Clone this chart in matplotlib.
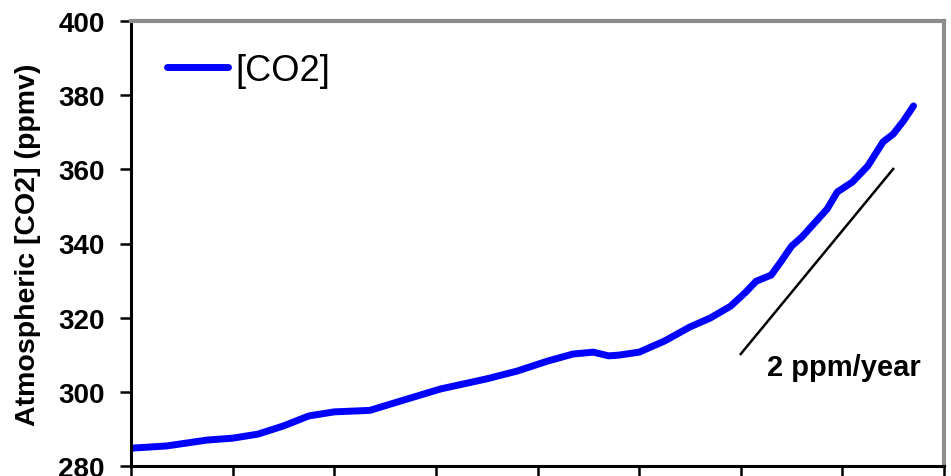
import numpy as np
import matplotlib
matplotlib.use("Agg")
import matplotlib.pyplot as plt

plt.rcParams['font.family'] = ['Liberation Sans', 'DejaVu Sans']

# approximate annual mean CO2
years = [1850, 1857, 1865, 1870, 1875, 1880, 1885, 1890, 1897, 1903, 1911,
         1920, 1926, 1932, 1937, 1941, 1944, 1946, 1950, 1955, 1960, 1964,
         1968, 1971, 1973, 1976, 1978, 1980, 1982, 1987, 1989, 1992, 1995,
         1998, 2000, 2002, 2004]
co2 = [284.8, 285.4, 287.0, 287.5, 288.6, 290.8, 293.5, 294.6, 295.0, 297.5,
       300.8, 303.5, 305.6, 308.3, 310.2, 310.7, 309.7, 309.9, 310.7, 313.7,
       317.5, 319.9, 323.1, 326.9, 329.8, 331.5, 335.3, 339.3, 341.7, 349.3,
       353.9, 356.6, 360.9, 367.4, 369.5, 373.0, 377.1]

# reference slope line
slope_x = [1970, 2000]
slope_y = [310.2, 360.1]
slope_label = "2 ppm/year"

fig = plt.figure(figsize=(9.51, 4.77), dpi=100)
ax = fig.add_axes([131 / 951, 1 - 467 / 477, 813 / 951, 445 / 477])

ax.plot(years, co2, color="#0000FF", lw=5, solid_capstyle="round", label="[CO2]")
ax.plot(slope_x, slope_y, color="black", lw=1.8)
ax.text(1975.2, 304.5, slope_label, fontsize=21, fontweight="bold",
        ha="left", va="baseline")

ax.set_xlim(1850, 2010)
ax.set_ylim(280, 400)
ax.set_xticks(np.arange(1850, 2011, 20))
ax.set_xticklabels([])
ax.set_yticks(np.arange(280, 401, 20))
ax.tick_params(axis="y", labelsize=20, length=8, width=1.8, direction="out", pad=11)
ax.tick_params(axis="x", length=9, width=1.8, direction="out")
for lab in ax.get_yticklabels():
    lab.set_fontweight("bold")

ax.set_ylabel("Atmospheric [CO2] (ppmv)", fontsize=20.5, fontweight="bold", labelpad=12)

for side in ["left", "bottom"]:
    ax.spines[side].set_linewidth(2.2)
    ax.spines[side].set_color("black")
for side in ["top", "right"]:
    ax.spines[side].set_linewidth(3)
    ax.spines[side].set_color("#8c8c8c")

leg = ax.legend(loc="upper left", bbox_to_anchor=(0.044, 0.928), frameon=False,
                fontsize=26, handlelength=1.7, handletextpad=0.2, borderpad=0,
                borderaxespad=0)

fig.savefig("out.png", dpi=100)
